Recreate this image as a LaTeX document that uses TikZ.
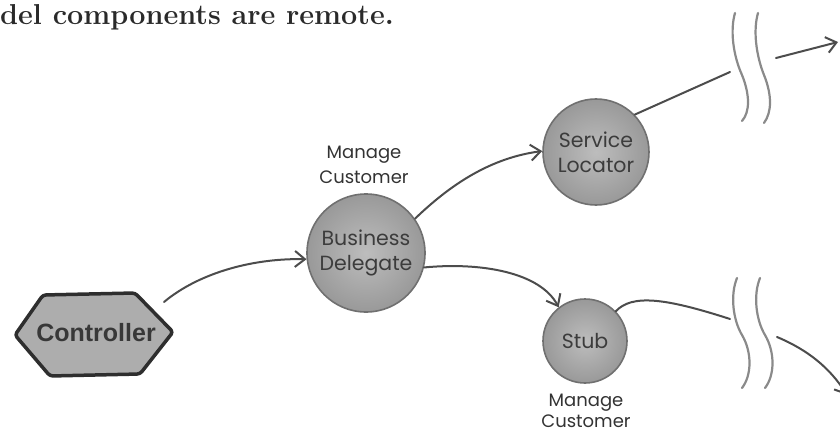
\documentclass[tikz,border=0pt]{standalone}
\usepackage{fontspec}
\newfontfamily\comic{Poppins}
\newfontfamily\ctrlfont{Liberation Sans}
\usetikzlibrary{arrows.meta}
\definecolor{titlegray}{HTML}{2A2A2A}
\definecolor{ballrim}{HTML}{707070}
\definecolor{ballin}{HTML}{BDBDBD}
\definecolor{ballout}{HTML}{999999}
\definecolor{balltext}{HTML}{3C3C3C}
\definecolor{lbltext}{HTML}{333333}
\definecolor{connc}{HTML}{4C4C4C}
\definecolor{wavec}{HTML}{8A8A8A}
\definecolor{ctrlfill}{HTML}{ADADAD}
\definecolor{ctrlrim}{HTML}{2E2E2E}
\definecolor{ctrltext}{HTML}{383838}
\tikzset{
  ball/.style={circle, draw=ballrim, line width=1.6pt, inner color=ballin, outer color=ballout,
    inner sep=0pt, font=\comic\fontsize{20.5}{25}\selectfont, text=balltext, align=center},
  lbl/.style={inner sep=0pt, align=center, text=lbltext},
  conn/.style={draw=connc, line width=2pt, line cap=round},
  arr/.style={-{Straight Barb[length=10pt,width=16pt,line width=2pt]}},
  wave/.style={draw=wavec, line width=2.2pt, line cap=round},
  ctrlshape/.style={fill=ctrlfill, draw=ctrlrim, line width=3.5pt, line join=round, rounded corners=3pt}
}
\begin{document}
\begin{tikzpicture}[x=1pt,y=-1pt]
\useasboundingbox (0,0) rectangle (840,433);
\clip (0,0) rectangle (840,433);

% title
\node[anchor=base west, inner sep=0pt, font=\fontsize{28.8}{31}\selectfont\bfseries, text=titlegray] (title) at (0,25) {del components are remote.};

% controller hexagon
\coordinate (hW) at (15,335);
\coordinate (hNW) at (43,295);
\coordinate (hNE) at (135,293);
\coordinate (hE) at (173,332);
\coordinate (hSE) at (140,374);
\coordinate (hSW) at (50,376);
\draw[ctrlshape] (hW) -- (hNW) -- (hNE) -- (hE) -- (hSE) -- (hSW) -- cycle;
\node[inner sep=0pt, font=\ctrlfont\bfseries\fontsize{25}{30}\selectfont, text=ctrltext] (ctrl) at (96,333) {Controller};
\coordinate (cstart) at (164,302);

% balls
\node[ball, minimum size=118pt] (bd) at (366,253) {Business\\Delegate};
\node[ball, minimum size=106pt] (sl) at (596,152) {Service\\Locator};
\node[ball, minimum size=84pt] (stub) at (585,341) {Stub};

% labels
\node[lbl, font=\comic\fontsize{18}{25}\selectfont] (bdlbl) at (364,165) {Manage\\Customer};
\node[lbl, font=\comic\fontsize{18}{21}\selectfont] (stublbl) at (586,411) {Manage\\Customer};

% wavy break lines (top)
\draw[wave] (735,13) .. controls (730,30) and (733,55) .. (742,75) .. controls (750,95) and (750,112) .. (742,121);
\draw[wave] (758,13) .. controls (753,30) and (756,55) .. (764,75) .. controls (772,95) and (772,112) .. (764,123);
% wavy break lines (bottom)
\draw[wave] (737,278) .. controls (730,295) and (733,320) .. (742,335) .. controls (752,352) and (752,375) .. (742,388);
\draw[wave] (760,278) .. controls (753,295) and (756,320) .. (765,335) .. controls (775,352) and (775,375) .. (765,388);

\coordinate (topin) at (730,72);
\coordinate (topout) at (776,58);
\coordinate (toptip) at (838,42);
\coordinate (botin) at (730,319);
\coordinate (botout) at (777,337);
\coordinate (bottip) at (847,395);

% connectors
\draw[conn, arr] (cstart) .. controls (200,272) and (255,258) .. (bd.186);
\draw[conn, arr] (bd.35) .. controls (450,185) and (490,158) .. (sl.179);
\draw[conn, arr] (bd.-14) .. controls (480,262) and (540,272) .. (stub.128);
\draw[conn] (sl.44) -- (topin);
\draw[conn, arr] (topout) -- (toptip);
\draw[conn] (stub.44) .. controls (632,294) and (665,298) .. (botin);
\draw[conn, arr] (botout) .. controls (808,350) and (830,368) .. (bottip);
\end{tikzpicture}
\end{document}
